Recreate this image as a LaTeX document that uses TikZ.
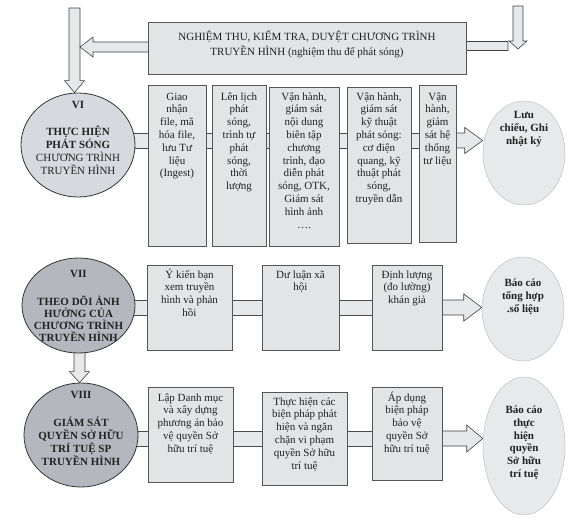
\documentclass[tikz,border=0pt]{standalone}
\usepackage{fontspec}
\setmainfont{Liberation Serif}
\usetikzlibrary{shapes.geometric,calc}
\pgfdeclarelayer{background}
\pgfsetlayers{background,main}
\definecolor{boxfill}{HTML}{E2E4E6}
\definecolor{boxline}{HTML}{555555}
\definecolor{ellA}{HTML}{D6D9DD}
\definecolor{ellB}{HTML}{B4B8BE}
\definecolor{ellC}{HTML}{E8E9EA}
\definecolor{ellCline}{HTML}{BDBFC1}
\definecolor{arrowfill}{HTML}{E6E8EA}
\definecolor{inktext}{HTML}{222222}
% box text: #1 first-line strut, #2 height, #3 width, #4 text
\newcommand{\bx}[4]{\parbox[c][#2][t]{#3}{\centering\rule{0pt}{#1}#4\par}}
% ellipse text: #1 raise of first baseline above centre, #2 width, #3 text
\newcommand{\et}[3]{\makebox[0pt]{\raisebox{#1}[0pt][0pt]{\parbox[t]{#2}{\centering #3}}}}
% right block arrow: #1 start, #2 tip, #3 centre y, #4 shaft half, #5 head half, #6 head length
\newcommand{\rarr}[6]{\draw[arrowst] ([xshift=-5pt]#1 |- 0,#3-#4) -- ([xshift=-#6pt]#2 |- 0,#3-#4) -- ([xshift=-#6pt]#2 |- 0,#3-#5) -- (#2 |- 0,#3) -- ([xshift=-#6pt]#2 |- 0,#3+#5) -- ([xshift=-#6pt]#2 |- 0,#3+#4) -- ([xshift=-5pt]#1 |- 0,#3+#4) -- cycle;}
\newcommand{\larr}[6]{\draw[arrowst] ([xshift=5pt]#1 |- 0,#3-#4) -- ([xshift=#6pt]#2 |- 0,#3-#4) -- ([xshift=#6pt]#2 |- 0,#3-#5) -- (#2 |- 0,#3) -- ([xshift=#6pt]#2 |- 0,#3+#5) -- ([xshift=#6pt]#2 |- 0,#3+#4) -- ([xshift=5pt]#1 |- 0,#3+#4) -- cycle;}
% down block arrow: #1 start, #2 tip, #3 centre x, #4 shaft half, #5 head half, #6 head length
\newcommand{\darr}[6]{\draw[arrowst] (#3-#4,0 |- #1) -- ([yshift=#6pt]#3-#4,0 |- #2) -- ([yshift=#6pt]#3-#5,0 |- #2) -- (#3,0 |- #2) -- ([yshift=#6pt]#3+#5,0 |- #2) -- ([yshift=#6pt]#3+#4,0 |- #2) -- (#3+#4,0 |- #1) -- cycle;}
\begin{document}
\begin{tikzpicture}[x=1pt,y=-1pt,
  font=\fontsize{11}{12.8}\selectfont, text=inktext,
  boxst/.style={rectangle, draw=boxline, fill=boxfill, inner sep=0pt, line width=0.7pt},
  ellst/.style={ellipse, inner sep=0pt, line width=0.8pt},
  ellL/.style={ellst, draw=black!80},
  ellR/.style={ellst, draw=ellCline, fill=ellC, line width=0.5pt},
  arrowst/.style={draw=black!75, fill=arrowfill, line width=0.6pt, line join=miter},
  connst/.style={draw=black!70, fill=arrowfill, line width=0.6pt}]
\useasboundingbox (0,0) rectangle (575,522);

% ---- top ----
\node[boxst] (top) at (307,48) {\bx{18.6pt}{52pt}{318pt}{NGHIỆM THU, KIỂM TRA, DUYỆT CHƯƠNG TRÌNH\\[2.2pt]TRUYỀN HÌNH (nghiệm thu để phát sóng)}};
\coordinate (tl) at (74.5,8);
\coordinate (tlr) at (80,47);
\coordinate (tr) at (518,6);
\coordinate (trt) at (518,49);
\coordinate (trl) at (513,46);

% ---- row VI ----
\node[ellL, fill=ellA, minimum width=114, minimum height=104] (e6) at (78,145)
  {\et{36.4pt}{110pt}{\textbf{VI}\\[14.5pt]\textbf{THỰC HIỆN\\PHÁT SÓNG}\\CHƯƠNG TRÌNH\\TRUYỀN HÌNH}};
\node[boxst] (b1) at (177,165.5) {\bx{15pt}{161pt}{58pt}{Giao\\nhận\\file, mã\\hóa file,\\lưu Tư\\liệu\\(Ingest)}};
\node[boxst] (b2) at (239,165.5) {\bx{15pt}{161pt}{54pt}{Lên lịch\\phát\\sóng,\\trình tự\\phát\\sóng,\\thời\\lượng}};
\node[boxst] (b3) at (304,166.5) {\bx{13pt}{159pt}{70pt}{Vận hành,\\giám sát\\nội dung\\biên tập\\chương\\trình, đạo\\diễn phát\\sóng, OTK,\\Giám sát\\hình ảnh\\….}};
\node[boxst] (b4) at (379,165) {\bx{13pt}{156pt}{64pt}{Vận hành,\\giám sát\\kỹ thuật\\phát sóng:\\cơ điện\\quang, kỹ\\thuật phát\\sóng,\\truyền dẫn}};
\node[boxst] (b5) at (437.5,163.5) {\bx{15pt}{157pt}{37pt}{Vận\\hành,\\giám\\sát hệ\\thống\\tư liệu}};
\node[ellR, minimum width=82, minimum height=104] (e6r) at (524,153)
  {\et{34.5pt}{80pt}{\textbf{Lưu\\chiểu, Ghi\\nhật ký}}};

% ---- row VII ----
\node[ellL, fill=ellB, minimum width=113, minimum height=95] (e7) at (78.5,305.5)
  {\et{27.9pt}{112pt}{\fontsize{11}{11.9}\selectfont\textbf{VII\\[16pt]THEO DÕI ẢNH\\HƯỞNG CỦA\\CHƯƠNG TRÌNH\\TRUYỀN HÌNH}}};
\node[boxst] (b7a) at (189.5,307.5) {\bx{13pt}{85pt}{85pt}{Ý kiến bạn\\xem truyền\\hình và phản\\hồi}};
\node[boxst] (b7b) at (300.5,307.5) {\bx{13pt}{85pt}{77pt}{Dư luận xã\\hội}};
\node[boxst] (b7c) at (407,307.5) {\bx{13pt}{85pt}{70pt}{Định lượng\\(đo lường)\\khán giả}};
\node[ellR, minimum width=82, minimum height=104] (e7r) at (523,309)
  {\et{22.5pt}{80pt}{\textbf{Báo cáo\\tổng hợp\\.số liệu}}};

% ---- row VIII ----
\node[ellL, fill=ellB, minimum width=114, minimum height=104] (e8) at (81,435)
  {\et{36.4pt}{112pt}{\textbf{VIII\\[15.5pt]GIÁM SÁT\\QUYỀN SỞ HỮU\\TRÍ TUỆ SP\\TRUYỀN HÌNH}}};
\node[boxst] (b8a) at (190.5,434.5) {\bx{14pt}{95pt}{85pt}{Lập Danh mục\\và xây dựng\\phương án bảo\\vệ quyền Sở\\hữu trí tuệ}};
\node[boxst] (b8b) at (304.5,438.5) {\bx{13pt}{93pt}{85pt}{Thực hiện các\\biện pháp phát\\hiện và ngăn\\chặn vi phạm\\quyền Sở hữu\\trí tuệ}};
\node[boxst] (b8c) at (407,433.5) {\bx{14pt}{93pt}{70pt}{Áp dụng\\biện pháp\\bảo vệ\\quyền Sở\\hữu trí tuệ}};
\node[ellR, minimum width=82, minimum height=138] (e8r) at (524,446)
  {\et{32.5pt}{80pt}{\textbf{Báo cáo\\thực\\hiện\\quyền\\Sở hữu\\trí tuệ}}};

% ---- connectors and block arrows ----
\begin{pgfonlayer}{background}
  \darr{tl}{e6.north}{74.5}{5.5}{10}{12}
  \larr{top.center}{tlr}{47}{5}{10}{13}
  \rarr{trl}{top.east}{46}{4.5}{9}{11}
  \darr{tr}{trt}{518}{5}{9}{8}

  \draw[connst] (e6.center |- 0,133) rectangle (b1.center |- 0,148);
  \draw[connst] (b1.center |- 0,133) rectangle (b2.center |- 0,148);
  \draw[connst] (b2.center |- 0,133) rectangle (b3.center |- 0,148);
  \draw[connst] (b3.center |- 0,133) rectangle (b4.center |- 0,148);
  \draw[connst] (b4.center |- 0,133) rectangle (b5.center |- 0,148);
  \rarr{b5.center}{e6r.west}{140.5}{7.5}{13}{18}

  \draw[connst] (e7.center |- 0,300) rectangle (b7a.center |- 0,315.5);
  \draw[connst] (b7a.center |- 0,300) rectangle (b7b.center |- 0,315.5);
  \draw[connst] (b7b.center |- 0,300) rectangle (b7c.center |- 0,315.5);
  \rarr{b7c.center}{e7r.west}{307.5}{7.5}{13.5}{18}

  \darr{e7.center}{e8.north}{79.5}{5.5}{10}{11}

  \draw[connst] (e8.center |- 0,431) rectangle (b8a.center |- 0,446);
  \draw[connst] (b8a.center |- 0,431) rectangle (b8b.center |- 0,446);
  \draw[connst] (b8b.center |- 0,431) rectangle (b8c.center |- 0,446);
  \rarr{b8c.center}{e8r.west}{438.5}{7.5}{13.5}{16}
\end{pgfonlayer}
\end{tikzpicture}
\end{document}
